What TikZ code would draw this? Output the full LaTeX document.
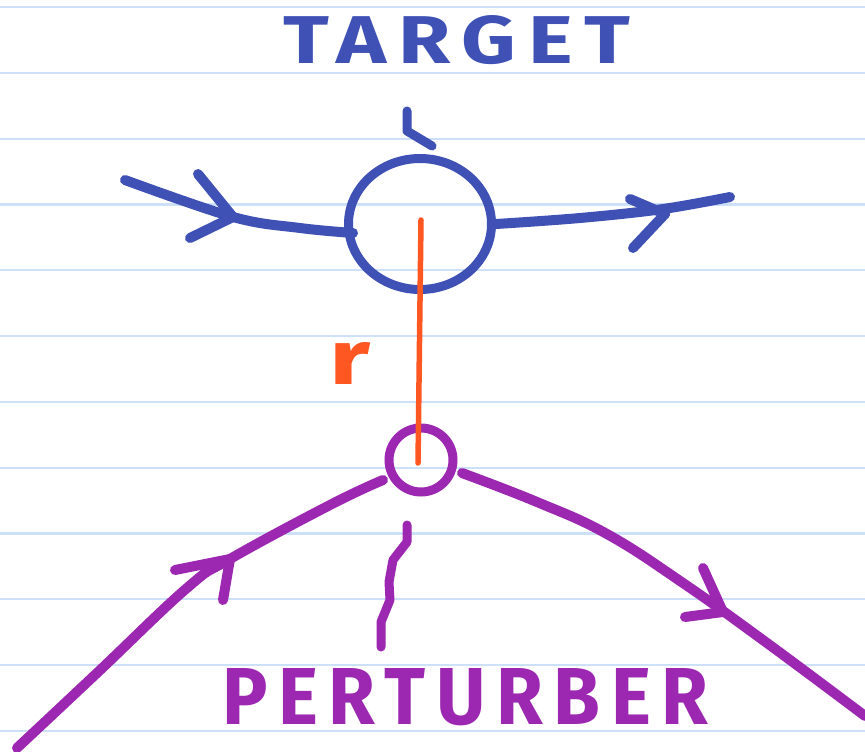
\documentclass[tikz,border=0pt]{standalone}
\usepackage{fontspec}
\setmainfont{Fira Sans}
\usetikzlibrary{shapes.geometric}
\definecolor{penblue}{HTML}{3F51B5}
\definecolor{penpurple}{HTML}{9C27B0}
\definecolor{penorange}{HTML}{FF5722}
\definecolor{ruling}{HTML}{CCE0FA}

\begin{document}
\begin{tikzpicture}[x=1pt,y=-1pt,
  pen/.style={line width=10pt, line cap=round, line join=round},
  thinpen/.style={line width=9pt, line cap=round, line join=round},
  ruled/.style={ruling, line width=2.2pt},
  label/.style={inner sep=0pt, anchor=south west,
    font=\bfseries\addfontfeature{LetterSpace=14}}]

% paper and its ruled lines
\useasboundingbox (0,0) rectangle (865,752);
\fill[white] (0,0) rectangle (865,752);
\foreach \k in {0,...,11}
  \draw[ruled] (0,{7+65.8*\k}) -- (865,{7+65.8*\k});

% the two bodies
\node[ellipse, draw=penblue, line width=9pt, minimum width=143pt,
      minimum height=131pt, inner sep=0pt] (target) at (420,224) {};
\node[circle, draw=penpurple, line width=9pt, minimum size=64pt,
      inner sep=0pt] (perturber) at (421,460) {};

% separation r
\draw[penorange, line width=5.5pt, line cap=round] ([shift={(1pt,4pt)}]target.center) -- ([shift={(-3pt,-3pt)}]perturber.center);
\node[label, text=penorange, font=\bfseries] (rlabel) at (329,385) {\resizebox{41pt}{42pt}{r}};

% target trajectory
\coordinate (tin)  at (125,180);
\coordinate (tout) at (730,197);
\draw[pen, penblue] plot[smooth, tension=0.6] coordinates
  {(tin) (233,217) (300,228) (353,233)};
\draw[pen, penblue] (198,174) -- (233,217) -- (190,238);
\draw[pen, penblue] plot[smooth, tension=0.6] coordinates
  {(target.east) (580,218) (663,209) (tout)};
\draw[pen, penblue] (630,199) -- (665,214) -- (633,248);
\draw[thinpen, penblue] (407,111) -- (407,131) -- (432,146);

% perturber trajectory
\coordinate (pin)  at (17,748);
\coordinate (pout) at (865,716);
\draw[pen, penpurple] plot[smooth, tension=0.7] coordinates
  {(pin) (97,673) (187,588) (230,559) (330,505) (383,480)};
\draw[pen, penpurple] (175,570) -- (230,559) -- (223,600);
\draw[pen, penpurple] plot[smooth, tension=0.7] coordinates
  {(462,473) (537,502) (607,534) (683,583) (767,643) (pout)};
\draw[pen, penpurple] (703,568) -- (723,612) -- (685,617);
\draw[thinpen, penpurple] (407,525) -- (407,542) -- (393,560) -- (389,582)
  -- (390,600) -- (381,622) -- (381,647);

% titles
\node[label, text=penblue] (ttitle) at (283,65) {\resizebox{347pt}{48pt}{TARGET}};
\node[label, text=penpurple] (ptitle) at (222,726) {\resizebox{486pt}{56pt}{PERTURBER}};
\end{tikzpicture}
\end{document}
